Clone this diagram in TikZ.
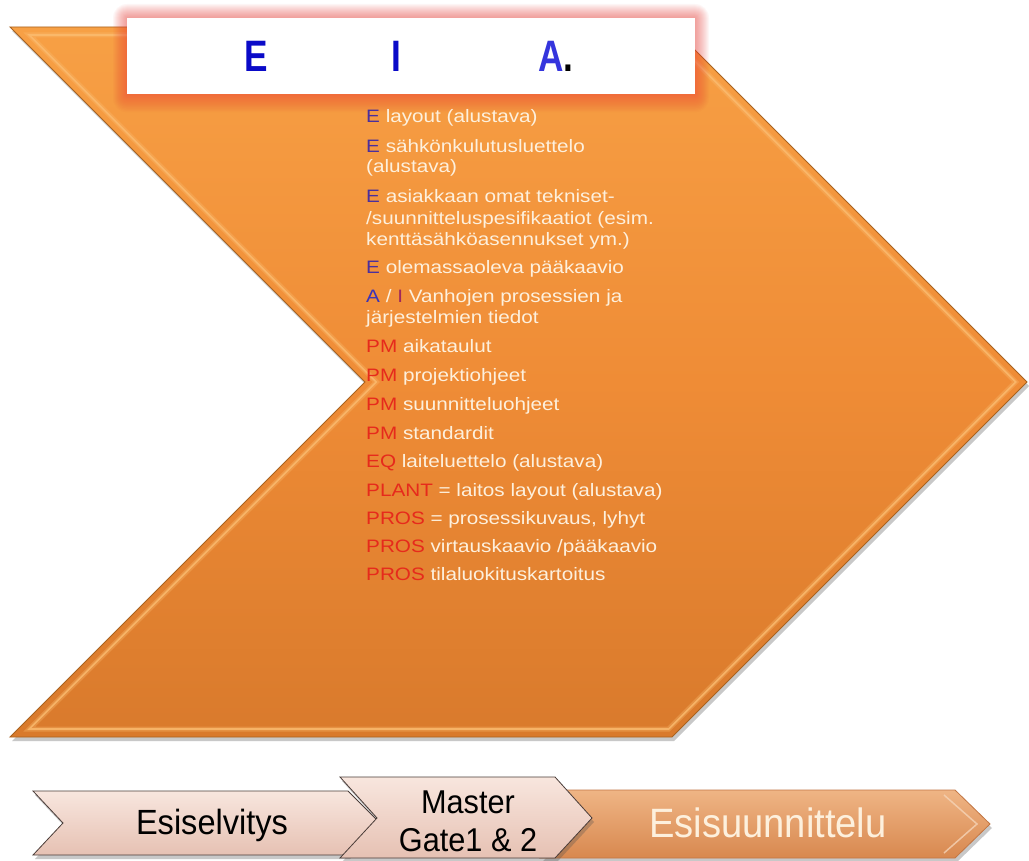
\documentclass[tikz,border=0pt]{standalone}
\usepackage{fontspec}
\setmainfont{Liberation Sans}
\newfontfamily\bodyfont{Liberation Sans}[FakeStretch=1.15]
\newfontfamily\eiafont{Liberation Sans}[FakeStretch=0.8]
\newfontfamily\narfont{Liberation Sans}[FakeStretch=0.93]
\usetikzlibrary{shadows}
\definecolor{orT}{HTML}{F7A045}
\definecolor{orM}{HTML}{EF8C36}
\definecolor{orB}{HTML}{D97A2C}
\definecolor{orEdge}{HTML}{A8621F}
\definecolor{orHi}{HTML}{FBBC70}
\definecolor{cream}{HTML}{FDF0DD}
\definecolor{pblue}{HTML}{4A2F9E}
\definecolor{ablue}{HTML}{3A33B8}
\definecolor{ipur}{HTML}{A0285A}
\definecolor{pred}{HTML}{E62A1C}
\definecolor{eblue}{HTML}{0A0AC8}
\definecolor{ablue2}{HTML}{3535DD}
\definecolor{pinkT}{HTML}{F8E6DE}
\definecolor{pinkB}{HTML}{E6C1B3}
\definecolor{pinkEdge}{HTML}{4A3C38}
\definecolor{tanT}{HTML}{EFB585}
\definecolor{tanB}{HTML}{D8884F}
\definecolor{tanEdge}{HTML}{C27644}
\definecolor{glow}{HTML}{F0403A}
\newcommand{\pb}[1]{\textcolor{pblue}{#1}}
\newcommand{\pr}[1]{\textcolor{pred}{#1}}
\begin{document}
\begin{tikzpicture}[x=1pt,y=-1pt,
  body/.style={anchor=west, inner sep=0pt, text height=13pt, text depth=4pt,
    font=\bodyfont\fontsize{18}{22}\selectfont, text=cream},
  eia/.style={inner sep=0pt, font=\eiafont\bfseries\fontsize{44}{48}\selectfont},
  lowtxt/.style={inner sep=0pt, align=center, font=\narfont\fontsize{35}{38}\selectfont, text=black},
  shad/.style={drop shadow={shadow xshift=2pt, shadow yshift=-4pt, opacity=0.3, fill=black!70}}
]
\useasboundingbox (0,0) rectangle (1029,861);
\fill[white] (0,0) rectangle (1029,861);

% main chevron
\path[shad, top color=orT, bottom color=orB, middle color=orM]
  (10,27) -- (672,27) -- (1027,382) -- (672,737) -- (10,737) -- (365,382) -- cycle;
% bevel highlight
\draw[orHi, line width=5pt, opacity=0.35, line join=miter]
  (29.3,35) -- (668.7,35) -- (1015.7,382) -- (668.7,729) -- (29.3,729) -- (376.3,382) -- cycle;
\draw[orHi, line width=1.6pt, opacity=0.8, line join=miter]
  (29.3,35) -- (668.7,35) -- (1015.7,382) -- (668.7,729) -- (29.3,729) -- (376.3,382) -- cycle;
\draw[orEdge, line width=0.9pt, line join=miter]
  (10,27) -- (672,27) -- (1027,382) -- (672,737) -- (10,737) -- (365,382) -- cycle;

% glow around title box
\foreach \i in {1,...,14}{
  \fill[glow, opacity=0.045, rounded corners=\i pt]
    (127-\i,18-\i) rectangle (695+\i,94+1.3*\i);
}
\node[fill=white, minimum width=568pt, minimum height=76pt, inner sep=0pt] (box) at (411,56) {};
\node[eia, text=eblue] (tE) at (256,56) {E};
\node[eia, text=eblue] (tI) at (396,56) {I};
\node[eia, text=ablue2, anchor=west] (tA) at (538,56) {A\textcolor{black}{.}};

% list
\node[body] (l1) at (366,118) {\pb{E} layout (alustava)};
\node[body] (l2) at (366,148) {\pb{E} sähkönkulutusluettelo};
\node[body] (l3) at (366,168) {(alustava)};
\node[body] (l4) at (366,198) {\pb{E} asiakkaan omat tekniset-};
\node[body] (l5) at (366,220) {/suunnitteluspesifikaatiot (esim.};
\node[body] (l6) at (366,241) {kenttäsähköasennukset ym.)};
\node[body] (l7) at (366,269) {\pb{E} olemassaoleva pääkaavio};
\node[body] (l8) at (366,298) {\textcolor{ablue}{A} / \textcolor{ipur}{I} Vanhojen prosessien ja};
\node[body] (l9) at (366,319) {järjestelmien tiedot};
\node[body] (l10) at (366,348) {\pr{PM} aikataulut};
\node[body] (l11) at (366,377) {\pr{PM} projektiohjeet};
\node[body] (l12) at (366,406) {\pr{PM} suunnitteluohjeet};
\node[body] (l13) at (366,435) {\pr{PM} standardit};
\node[body] (l14) at (366,463) {\pr{EQ} laiteluettelo (alustava)};
\node[body] (l15) at (366,492) {\pr{PLANT} = laitos layout (alustava)};
\node[body] (l16) at (366,520) {\pr{PROS} = prosessikuvaus, lyhyt};
\node[body] (l17) at (366,548) {\pr{PROS} virtauskaavio /pääkaavio};
\node[body] (l18) at (366,576) {\pr{PROS} tilaluokituskartoitus};

% bottom chevrons
\path[shad, top color=tanT, bottom color=tanB, draw=tanEdge, line width=0.8pt]
  (540,790) -- (955,790) -- (990,824) -- (955,858) -- (540,858) -- (575,824) -- cycle;
\draw[tanT!60!white, line width=1.5pt, opacity=0.8]
  (944,795) -- (977,824) -- (944,853);
\path[shad, top color=pinkT, bottom color=pinkB, draw=pinkEdge, line width=0.8pt]
  (33,791) -- (348,791) -- (380,823) -- (348,855) -- (33,855) -- (63,823) -- cycle;
\path[shad, top color=pinkT, bottom color=pinkB, draw=pinkEdge, line width=0.8pt]
  (340,777) -- (555,777) -- (592,818) -- (555,858) -- (340,858) -- (377,818) -- cycle;

\node[lowtxt] (b1) at (212,825) {Esiselvitys};
\node[lowtxt, font=\narfont\fontsize{33}{38}\selectfont] (b2) at (468,821) {Master\\Gate1 \& 2};
\node[lowtxt, font=\narfont\fontsize{41}{44}\selectfont, text=cream] (b3) at (768,823) {Esisuunnittelu};
\end{tikzpicture}
\end{document}
